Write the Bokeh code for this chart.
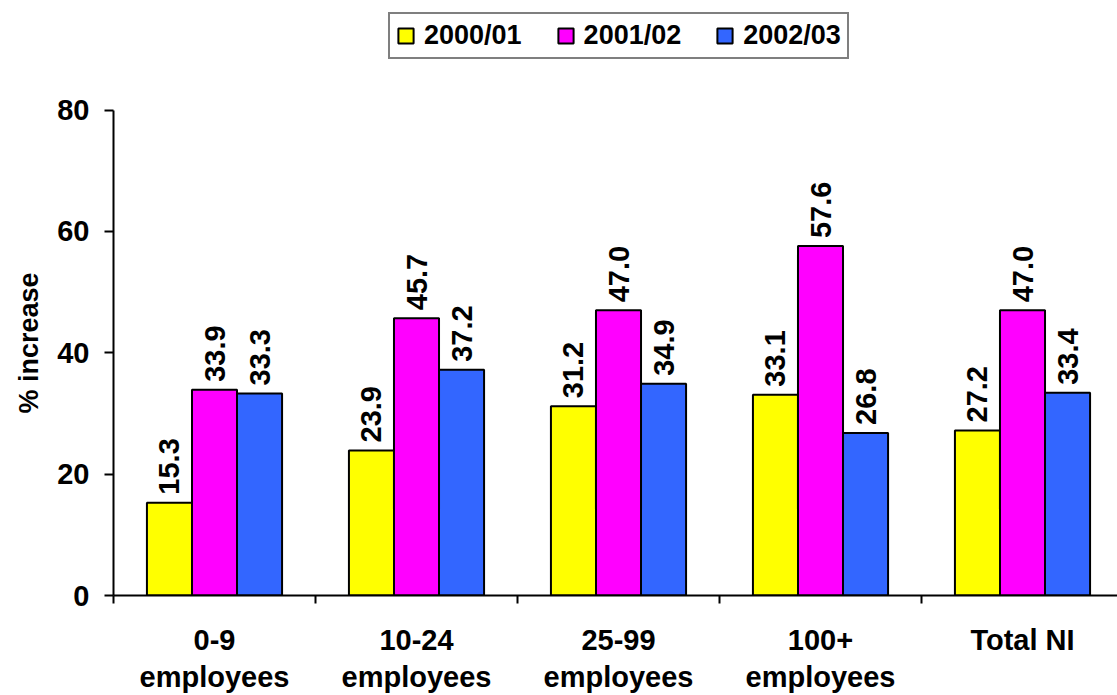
import math

from bokeh.core.properties import value
from bokeh.embed import file_html
from bokeh.models import ColumnDataSource, FixedTicker, Legend, LegendItem, Range1d, Title
from bokeh.plotting import figure
from bokeh.resources import INLINE

# Categories (tick labels) and the three yearly series, % increase
categories = ["0-9\nemployees", "10-24\nemployees", "25-99\nemployees",
              "100+\nemployees", "Total NI"]
series_names = ["2000/01", "2001/02", "2002/03"]
values_2000_01 = [15.3, 23.9, 31.2, 33.1, 27.2]
values_2001_02 = [33.9, 45.7, 47.0, 57.6, 47.0]
values_2002_03 = [33.3, 37.2, 34.9, 26.8, 33.4]
series_colors = ["#FFFF00", "#FF00FF", "#3366FF"]
y_ticks = [0, 20, 40, 60, 80]

FONT = "Liberation Sans"
BAR_W = 0.223
Y_MAX = 80
# the plot area runs up to the top edge so the legend can sit above the axis
Y_TOP = Y_MAX * 597 / 487

p = figure(
    width=1117, height=695,
    output_backend="svg", toolbar_location=None,
    x_range=Range1d(0, 1004 / 202), y_range=Range1d(0, Y_TOP),
    min_border_left=113, min_border_right=0,
    min_border_top=0, min_border_bottom=98,
)
p.outline_line_color = None
p.xgrid.visible = False
p.ygrid.visible = False
p.background_fill_color = "white"
p.border_fill_color = "white"

centers = [i + 0.5 for i in range(len(categories))]
all_series = [values_2000_01, values_2001_02, values_2002_03]

renderers = []
for k, (name, vals, col) in enumerate(zip(series_names, all_series, series_colors)):
    xs = [c + (k - 1) * BAR_W for c in centers]
    src = ColumnDataSource(dict(x=xs, top=vals, lab=[f"{v:.1f}" for v in vals]))
    r = p.vbar(x="x", top="top", bottom=0, width=BAR_W, source=src,
               fill_color=col, line_color="black", line_width=2)
    renderers.append(r)
    p.text(x="x", y="top", text="lab", source=src, angle=math.pi / 2,
           text_align="left", text_baseline="middle", y_offset=-8,
           text_font=value(FONT), text_font_style="bold",
           text_font_size="29px", text_color="black")

# x axis: labels at category centres, tick marks at category boundaries
xa = p.xaxis[0]
xa.ticker = FixedTicker(ticks=centers, minor_ticks=list(range(len(categories) + 1)))
xa.major_label_overrides = {c: lab for c, lab in zip(centers, categories)}
xa.major_tick_in = 0
xa.major_tick_out = 0
xa.minor_tick_in = 0
xa.minor_tick_out = 8
xa.minor_tick_line_color = "black"
xa.minor_tick_line_width = 2
xa.axis_line_width = 2
xa.axis_line_color = "black"
xa.major_label_standoff = 20
xa.major_label_text_font = FONT
xa.major_label_text_font_style = "bold"
xa.major_label_text_font_size = "29px"
xa.major_label_text_line_height = 1.16
xa.major_label_text_color = "black"

ya = p.yaxis[0]
ya.ticker = FixedTicker(ticks=y_ticks, minor_ticks=[])
ya.bounds = (0, Y_MAX)
ya.major_tick_in = 0
ya.major_tick_out = 9
ya.major_tick_line_width = 2
ya.axis_line_width = 2
ya.axis_line_color = "black"
ya.major_label_standoff = 15
ya.major_label_text_font = FONT
ya.major_label_text_font_style = "bold"
ya.major_label_text_font_size = "29px"
ya.major_label_text_color = "black"

# y axis title, placed along the 0-80 span rather than the whole plot area
p.add_layout(Title(text="% increase", align="left", offset=182, standoff=22,
                   text_font=FONT, text_font_style="bold",
                   text_font_size="27px", text_color="black"), "left")

legend = Legend(
    items=[LegendItem(label=n, renderers=[r]) for n, r in zip(series_names, renderers)],
    orientation="horizontal",
    location=(275, 536),
    margin=0,
    glyph_width=19, glyph_height=19,
    label_standoff=9, spacing=34, padding=6,
    label_text_font=FONT, label_text_font_style="bold",
    label_text_font_size="27px", label_text_color="black",
    border_line_color="black", border_line_width=2,
    background_fill_color="white", background_fill_alpha=1,
)
p.add_layout(legend, "center")

open("out.html", "w").write(file_html(p, INLINE))
